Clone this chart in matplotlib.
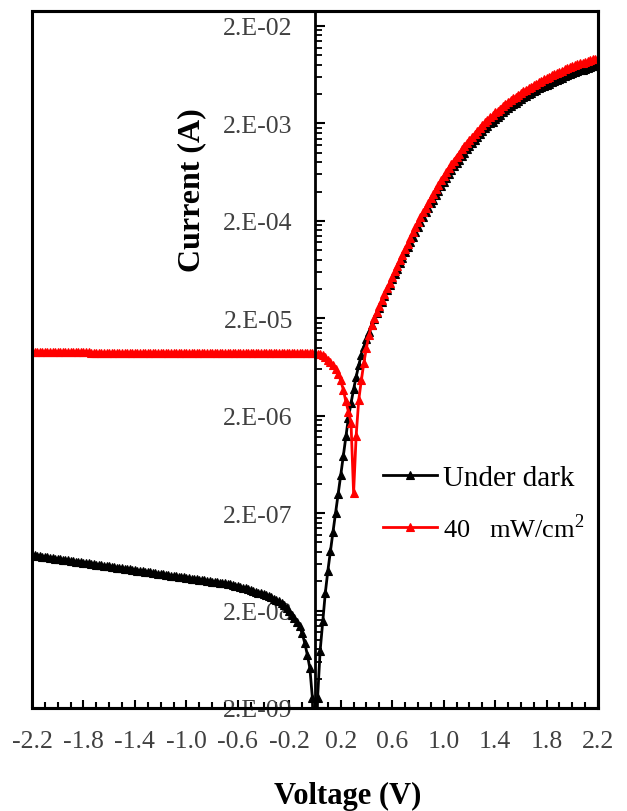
import matplotlib.pyplot as plt
from matplotlib.patches import Rectangle
from matplotlib.ticker import FixedLocator, FixedFormatter, NullFormatter

# bias sweep (V)
voltage = [
    -2.20, -2.18, -2.16, -2.14, -2.12, -2.10, -2.08, -2.06, -2.04, -2.02,
    -2.00, -1.98, -1.96, -1.94, -1.92, -1.90, -1.88, -1.86, -1.84, -1.82,
    -1.80, -1.78, -1.76, -1.74, -1.72, -1.70, -1.68, -1.66, -1.64, -1.62,
    -1.60, -1.58, -1.56, -1.54, -1.52, -1.50, -1.48, -1.46, -1.44, -1.42,
    -1.40, -1.38, -1.36, -1.34, -1.32, -1.30, -1.28, -1.26, -1.24, -1.22,
    -1.20, -1.18, -1.16, -1.14, -1.12, -1.10, -1.08, -1.06, -1.04, -1.02,
    -1.00, -0.98, -0.96, -0.94, -0.92, -0.90, -0.88, -0.86, -0.84, -0.82,
    -0.80, -0.78, -0.76, -0.74, -0.72, -0.70, -0.68, -0.66, -0.64, -0.62,
    -0.60, -0.58, -0.56, -0.54, -0.52, -0.50, -0.48, -0.46, -0.44, -0.42,
    -0.40, -0.38, -0.36, -0.34, -0.32, -0.30, -0.28, -0.26, -0.24, -0.22,
    -0.20, -0.18, -0.16, -0.14, -0.12, -0.10, -0.08, -0.06, -0.04, -0.02,
    0.00, 0.02, 0.04, 0.06, 0.08, 0.10, 0.12, 0.14, 0.16, 0.18,
    0.20, 0.22, 0.24, 0.26, 0.28, 0.30, 0.32, 0.34, 0.36, 0.38,
    0.40, 0.42, 0.44, 0.46, 0.48, 0.50, 0.52, 0.54, 0.56, 0.58,
    0.60, 0.62, 0.64, 0.66, 0.68, 0.70, 0.72, 0.74, 0.76, 0.78,
    0.80, 0.82, 0.84, 0.86, 0.88, 0.90, 0.92, 0.94, 0.96, 0.98,
    1.00, 1.02, 1.04, 1.06, 1.08, 1.10, 1.12, 1.14, 1.16, 1.18,
    1.20, 1.22, 1.24, 1.26, 1.28, 1.30, 1.32, 1.34, 1.36, 1.38,
    1.40, 1.42, 1.44, 1.46, 1.48, 1.50, 1.52, 1.54, 1.56, 1.58,
    1.60, 1.62, 1.64, 1.66, 1.68, 1.70, 1.72, 1.74, 1.76, 1.78,
    1.80, 1.82, 1.84, 1.86, 1.88, 1.90, 1.92, 1.94, 1.96, 1.98,
    2.00, 2.02, 2.04, 2.06, 2.08, 2.10, 2.12, 2.14, 2.16, 2.18,
    2.20,
]

# current under dark (A)
dark_current = [
    7.41e-8, 7.35e-8, 7.28e-8, 7.22e-8, 7.15e-8, 7.09e-8, 7.03e-8, 6.96e-8, 6.90e-8, 6.84e-8,
    6.78e-8, 6.72e-8, 6.66e-8, 6.60e-8, 6.54e-8, 6.48e-8, 6.43e-8, 6.37e-8, 6.31e-8, 6.26e-8,
    6.20e-8, 6.15e-8, 6.09e-8, 6.04e-8, 5.98e-8, 5.93e-8, 5.88e-8, 5.83e-8, 5.77e-8, 5.72e-8,
    5.67e-8, 5.62e-8, 5.57e-8, 5.52e-8, 5.47e-8, 5.43e-8, 5.38e-8, 5.33e-8, 5.28e-8, 5.24e-8,
    5.19e-8, 5.14e-8, 5.10e-8, 5.05e-8, 5.01e-8, 4.96e-8, 4.92e-8, 4.88e-8, 4.83e-8, 4.79e-8,
    4.75e-8, 4.70e-8, 4.66e-8, 4.62e-8, 4.58e-8, 4.54e-8, 4.50e-8, 4.46e-8, 4.42e-8, 4.38e-8,
    4.34e-8, 4.30e-8, 4.26e-8, 4.22e-8, 4.19e-8, 4.15e-8, 4.11e-8, 4.08e-8, 4.04e-8, 4.00e-8,
    3.97e-8, 3.93e-8, 3.90e-8, 3.86e-8, 3.83e-8, 3.80e-8, 3.76e-8, 3.73e-8, 3.67e-8, 3.61e-8,
    3.56e-8, 3.50e-8, 3.44e-8, 3.37e-8, 3.30e-8, 3.24e-8, 3.18e-8, 3.12e-8, 3.06e-8, 3.01e-8,
    2.95e-8, 2.89e-8, 2.82e-8, 2.74e-8, 2.66e-8, 2.58e-8, 2.49e-8, 2.40e-8, 2.26e-8, 2.12e-8,
    1.97e-8, 1.82e-8, 1.67e-8, 1.53e-8, 1.38e-8, 1.17e-8, 9.33e-9, 7.08e-9, 5.13e-9, 2.51e-9,
    1.0e-10, 2.51e-9, 7.76e-9, 1.55e-8, 3.02e-8, 5.13e-8, 8.13e-8, 1.29e-7, 2.00e-7, 3.16e-7,
    4.90e-7, 7.76e-7, 1.23e-6, 1.91e-6, 2.69e-6, 3.72e-6, 5.01e-6, 6.61e-6, 8.32e-6, 1.02e-5,
    1.23e-5, 1.45e-5, 1.70e-5, 1.95e-5, 2.24e-5, 2.57e-5, 2.95e-5, 3.39e-5, 3.89e-5, 4.37e-5,
    5.01e-5, 5.75e-5, 6.46e-5, 7.41e-5, 8.32e-5, 9.55e-5, 1.07e-4, 1.20e-4, 1.38e-4, 1.55e-4,
    1.74e-4, 1.95e-4, 2.19e-4, 2.45e-4, 2.69e-4, 3.02e-4, 3.31e-4, 3.72e-4, 4.07e-4, 4.57e-4,
    5.01e-4, 5.50e-4, 6.03e-4, 6.61e-4, 7.24e-4, 7.94e-4, 8.51e-4, 9.33e-4, 1.00e-3, 1.10e-3,
    1.17e-3, 1.26e-3, 1.35e-3, 1.45e-3, 1.55e-3, 1.66e-3, 1.78e-3, 1.86e-3, 2.00e-3, 2.09e-3,
    2.24e-3, 2.34e-3, 2.45e-3, 2.63e-3, 2.75e-3, 2.88e-3, 3.02e-3, 3.16e-3, 3.24e-3, 3.39e-3,
    3.55e-3, 3.72e-3, 3.80e-3, 3.98e-3, 4.07e-3, 4.27e-3, 4.37e-3, 4.57e-3, 4.68e-3, 4.90e-3,
    5.01e-3, 5.13e-3, 5.37e-3, 5.50e-3, 5.62e-3, 5.75e-3, 5.89e-3, 6.17e-3, 6.31e-3, 6.46e-3,
    6.61e-3, 6.76e-3, 6.92e-3, 7.00e-3, 7.08e-3, 7.24e-3, 7.41e-3, 7.59e-3, 7.68e-3, 7.76e-3,
    7.94e-3,
]

# current under 40 mW/cm2 illumination (A)
light_current = [
    8.98e-6, 8.98e-6, 8.97e-6, 8.97e-6, 8.97e-6, 8.96e-6, 8.96e-6, 8.96e-6, 8.95e-6, 8.95e-6,
    8.95e-6, 8.94e-6, 8.94e-6, 8.94e-6, 8.93e-6, 8.93e-6, 8.93e-6, 8.92e-6, 8.92e-6, 8.92e-6,
    8.91e-6, 8.91e-6, 8.91e-6, 8.90e-6, 8.90e-6, 8.90e-6, 8.89e-6, 8.89e-6, 8.89e-6, 8.88e-6,
    8.88e-6, 8.88e-6, 8.87e-6, 8.87e-6, 8.87e-6, 8.86e-6, 8.86e-6, 8.86e-6, 8.85e-6, 8.85e-6,
    8.85e-6, 8.85e-6, 8.84e-6, 8.84e-6, 8.84e-6, 8.83e-6, 8.83e-6, 8.83e-6, 8.83e-6, 8.82e-6,
    8.82e-6, 8.82e-6, 8.82e-6, 8.81e-6, 8.81e-6, 8.81e-6, 8.81e-6, 8.80e-6, 8.80e-6, 8.80e-6,
    8.80e-6, 8.80e-6, 8.79e-6, 8.79e-6, 8.79e-6, 8.79e-6, 8.79e-6, 8.78e-6, 8.78e-6, 8.78e-6,
    8.78e-6, 8.78e-6, 8.78e-6, 8.77e-6, 8.77e-6, 8.77e-6, 8.77e-6, 8.77e-6, 8.77e-6, 8.77e-6,
    8.76e-6, 8.76e-6, 8.76e-6, 8.76e-6, 8.76e-6, 8.76e-6, 8.76e-6, 8.76e-6, 8.75e-6, 8.75e-6,
    8.75e-6, 8.75e-6, 8.75e-6, 8.75e-6, 8.75e-6, 8.75e-6, 8.75e-6, 8.75e-6, 8.75e-6, 8.75e-6,
    8.75e-6, 8.75e-6, 8.75e-6, 8.75e-6, 8.75e-6, 8.75e-6, 8.75e-6, 8.75e-6, 8.75e-6, 8.75e-6,
    8.75e-6, 8.70e-6, 8.62e-6, 8.45e-6, 8.10e-6, 7.50e-6, 7.10e-6, 6.60e-6, 6.10e-6, 5.40e-6,
    4.60e-6, 3.70e-6, 2.80e-6, 2.20e-6, 1.70e-6, 3.20e-7, 1.25e-6, 2.90e-6, 4.60e-6, 7.00e-6,
    1.00e-5, 1.35e-5, 1.70e-5, 2.00e-5, 2.32e-5, 2.68e-5, 3.09e-5, 3.57e-5, 4.11e-5, 4.64e-5,
    5.35e-5, 6.16e-5, 6.95e-5, 8.00e-5, 9.02e-5, 1.04e-4, 1.17e-4, 1.32e-4, 1.52e-4, 1.71e-4,
    1.93e-4, 2.17e-4, 2.44e-4, 2.74e-4, 3.02e-4, 3.40e-4, 3.74e-4, 4.21e-4, 4.62e-4, 5.20e-4,
    5.72e-4, 6.29e-4, 6.91e-4, 7.59e-4, 8.32e-4, 9.13e-4, 9.80e-4, 1.08e-3, 1.16e-3, 1.27e-3,
    1.35e-3, 1.45e-3, 1.56e-3, 1.68e-3, 1.79e-3, 1.92e-3, 2.06e-3, 2.15e-3, 2.31e-3, 2.42e-3,
    2.60e-3, 2.71e-3, 2.84e-3, 3.05e-3, 3.19e-3, 3.35e-3, 3.51e-3, 3.67e-3, 3.77e-3, 3.95e-3,
    4.14e-3, 4.34e-3, 4.44e-3, 4.65e-3, 4.76e-3, 4.99e-3, 5.11e-3, 5.35e-3, 5.48e-3, 5.74e-3,
    5.87e-3, 6.01e-3, 6.30e-3, 6.45e-3, 6.60e-3, 6.75e-3, 6.92e-3, 7.25e-3, 7.42e-3, 7.60e-3,
    7.78e-3, 7.96e-3, 8.15e-3, 8.25e-3, 8.35e-3, 8.55e-3, 8.75e-3, 8.96e-3, 9.07e-3, 9.17e-3,
    9.40e-3,
]

ytick_values = [2e-9, 2e-8, 2e-7, 2e-6, 2e-5, 2e-4, 2e-3, 2e-2]
ytick_labels = ["2.E-09", "2.E-08", "2.E-07", "2.E-06", "2.E-05", "2.E-04", "2.E-03", "2.E-02"]
xtick_values = [-2.2, -1.8, -1.4, -1.0, -0.6, -0.2, 0.2, 0.6, 1.0, 1.4, 1.8, 2.2]
xtick_labels = ["-2.2", "-1.8", "-1.4", "-1.0", "-0.6", "-0.2", "0.2", "0.6", "1.0", "1.4", "1.8", "2.2"]

plt.rcParams['font.family'] = ['Liberation Serif', 'DejaVu Serif']
plt.rcParams['mathtext.fontset'] = 'custom'
plt.rcParams['mathtext.rm'] = 'Liberation Serif'

W, H = 627, 812
fig = plt.figure(figsize=(W / 100, H / 100), dpi=100)
ax = fig.add_axes([32 / W, 1 - 709 / H, 566 / W, 697 / H])

ax.plot(voltage, dark_current, color='black', lw=2.0, marker='^', ms=5.5,
        mew=0.8, label='Under dark')
ax.plot(voltage, light_current, color='red', lw=2.0, marker='^', ms=5.5,
        mew=0.8, label=r'40   mW/cm$^\mathregular{2}$')

ax.set_yscale('log')
ax.set_xlim(-2.2, 2.2)
ax.set_ylim(2e-9, 2.85e-2)

# y axis drawn through V = 0, box around the plot area
ax.spines['left'].set_position(('data', 0))
ax.spines['left'].set_linewidth(2.0)
for s in ['top', 'right', 'bottom']:
    ax.spines[s].set_linewidth(2.2)
ax.add_patch(Rectangle((0, 0), 1, 1, transform=ax.transAxes, fill=False,
                       lw=2.2, ec='black', clip_on=False, zorder=5))

# excel-like log ticks: minor marks at 2e(n) * m
minor_y = [2 * 10.0 ** n * m for n in range(-9, -1) for m in range(2, 10)]
ax.yaxis.set_major_locator(FixedLocator(ytick_values))
ax.yaxis.set_major_formatter(FixedFormatter(ytick_labels))
ax.yaxis.set_minor_locator(FixedLocator(minor_y))
ax.yaxis.set_minor_formatter(NullFormatter())
ax.tick_params(axis='y', which='major', direction='in', length=7, width=1.5,
               pad=16, labelsize=18.5, labelcolor='#404040')
ax.tick_params(axis='y', which='minor', direction='in', length=5, width=1.3)

minor_x = [round(-2.2 + 0.1 * i, 1) for i in range(45)]
ax.xaxis.set_major_locator(FixedLocator(xtick_values))
ax.xaxis.set_major_formatter(FixedFormatter(xtick_labels))
ax.xaxis.set_minor_locator(FixedLocator(minor_x))
ax.tick_params(axis='x', which='major', direction='in', length=6, width=1.5,
               pad=16, labelsize=18.5, labelcolor='#404040')
ax.tick_params(axis='x', which='minor', direction='in', length=4, width=1.5)

fig.text(192 / W, 1 - 190 / H, 'Current (A)', rotation=90, ha='center',
         va='center', fontsize=23, fontweight='bold')
fig.text(348 / W, 1 - 796 / H, 'Voltage (V)', ha='center', va='center',
         fontsize=22, fontweight='bold')

leg = ax.legend(loc='upper left', bbox_to_anchor=(383 / W, 1 - 466 / H),
                bbox_transform=fig.transFigure, frameon=False, fontsize=21,
                handlelength=1.85, handletextpad=0.2, labelspacing=0.75,
                borderpad=0, borderaxespad=0)
leg.get_texts()[1].set_fontsize(19)

fig.savefig('out.png', dpi=100)
